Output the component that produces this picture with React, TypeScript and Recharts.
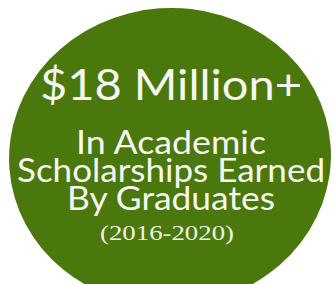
import React from 'react';
import { ScatterChart, Scatter, XAxis, YAxis } from 'recharts';

// single "badge" mark, positioned in a 334x284 data space
const badgeCenter = [{ x: 170, y: 157 }];
const headline = ['$18 Million+'];
const subtitleLines = ['In Academic', 'Scholarships Earned', 'By Graduates'];
const subtitleWidths = [190, 308, 208];
const yearRange = ['(2016-2020)'];

const GREEN = '#4a780c';

const Badge = (props: any) => {
  const { cx, cy } = props;
  return (
    <g>
      <ellipse cx={cx} cy={cy} rx={161} ry={149} fill={GREEN} transform={`rotate(-4 ${cx} ${cy})`} />
      <text
        x={cx + 1}
        y={cy - 57}
        textAnchor="middle"
        fill="#f7f7f2"
        fontFamily="Lato, sans-serif"
        fontSize={42}
        textLength={262}
        lengthAdjust="spacingAndGlyphs"
      >
        {headline[0]}
      </text>
      {subtitleLines.map((line, i) => (
        <text
          key={line}
          x={cx + 1}
          y={cy - 3 + i * 28}
          textAnchor="middle"
          fill="#f7f7f2"
          fontFamily="Lato, sans-serif"
          fontSize={32}
          textLength={subtitleWidths[i]}
          lengthAdjust="spacingAndGlyphs"
        >
          {line}
        </text>
      ))}
      <text
        x={cx - 3}
        y={cy + 83}
        textAnchor="middle"
        fill="#f0f0e8"
        fontFamily="'Liberation Serif', serif"
        fontSize={21}
        textLength={134}
        lengthAdjust="spacingAndGlyphs"
      >
        {yearRange[0]}
      </text>
    </g>
  );
};

const App = () => {
  return (
    <div style={{ position: 'fixed', top: 0, left: 0, background: '#fff' }}>
      <ScatterChart width={334} height={284} margin={{ top: 0, right: 0, bottom: 0, left: 0 }}>
        <XAxis type="number" dataKey="x" domain={[0, 334]} hide />
        <YAxis type="number" dataKey="y" domain={[0, 284]} reversed hide />
        <Scatter data={badgeCenter} shape={<Badge />} isAnimationActive={false} />
      </ScatterChart>
    </div>
  );
};

export default App;
